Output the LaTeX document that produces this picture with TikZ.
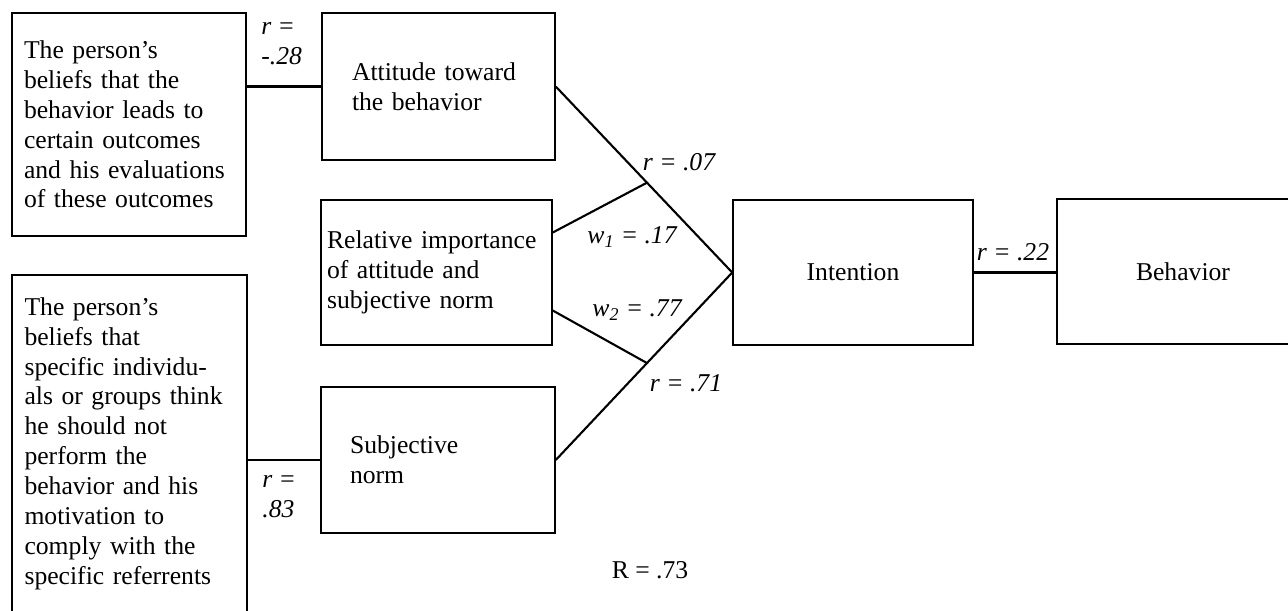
\documentclass[tikz,border=0pt]{standalone}
\usepackage{fontspec}
\setmainfont{Liberation Serif}
\usetikzlibrary{calc}

\begin{document}
\begin{tikzpicture}[x=0.02cm,y=-0.02cm,
	box/.style={draw,line width=0.9pt,align=left,inner sep=0pt,font=\fontsize{14.6}{17}\selectfont},
	lbl/.style={inner sep=0pt,font=\fontsize{14.6}{17}\selectfont\itshape},
	link/.style={line width=1.2pt}]
	\useasboundingbox (0,0) rectangle (1288,610);
	\clip (0,0) rectangle (1288,610);
	
	\node[box,minimum width=4.68cm,minimum height=4.46cm,text width=4.2cm] (BA) at (129,124.5) {The person's\\beliefs that the\\behavior leads to\\certain outcomes\\and his evaluations\\of these outcomes};
	\node[box,minimum width=4.70cm,minimum height=6.74cm,text width=4.2cm] (BN) at (129.5,443.5) {The person's\\beliefs that\\specific individu-\\als or groups think\\he should not\\perform the\\behavior and his\\motivation to\\comply with the\\specific referrents};
	
	\node[box,minimum width=4.66cm,minimum height=2.94cm,text width=3.46cm] (Att) at (438.5,86.5) {Attitude toward\\the behavior};
	\node[box,minimum width=4.62cm,minimum height=2.90cm,text width=4.38cm] (Rel) at (436.5,272.5) {Relative importance\\of attitude and\\subjective norm};
	\node[box,minimum width=4.68cm,minimum height=2.92cm,text width=3.52cm] (SN) at (438,460) {Subjective\\norm};
	
	\node[box,minimum width=4.80cm,minimum height=2.90cm] (Int) at (853,272.5) {Intention};
	\node[box,minimum width=5.04cm,minimum height=2.90cm] (Beh) at (1183,271.5) {Behavior};
	
	\coordinate (JA) at ($(Att.east)!0.517!(Int.west)$);
	\coordinate (JN) at ($(SN.east)!0.517!(Int.west)$);
	
	\draw [link] (Att.west) -- (Att.west -| BA.east);
	\draw [link] (SN.west) -- (SN.west -| BN.east);
	\draw [link] (Att.east) -- (Int.west);
	\draw [link] (SN.east) -- (Int.west);
	\draw [link] ($(Rel.east)+(0,-40)$) -- (JA);
	\draw [link] ($(Rel.east)+(0,38)$) -- (JN);
	\draw [link] (Int.east) -- (Int.east -| Beh.west);
	
	\node[lbl,align=left,anchor=west] (rA) at (261,44) {r =\\-.28};
	\node[lbl,align=left,anchor=west] (rN) at (262,497) {r =\\.83};
	\node[lbl] (rAI) at (679,162) {r = .07};
	\node[lbl] (w1) at (632,237) {w\textsubscript{1} = .17};
	\node[lbl] (w2) at (637,310) {w\textsubscript{2} = .77};
	\node[lbl] (rNI) at (686,383) {r = .71};
	\node[lbl] (rIB) at (1013,252) {r = .22};
	\node[lbl,font=\fontsize{14.6}{17}\selectfont\upshape] (R) at (650,570) {R = .73};
	
\end{tikzpicture}
\end{document}
